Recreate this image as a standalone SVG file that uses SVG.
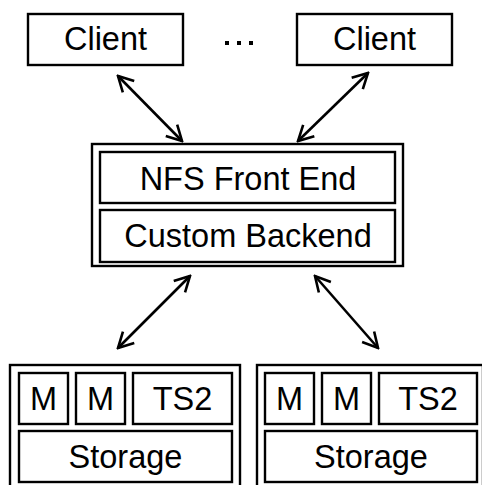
<svg xmlns="http://www.w3.org/2000/svg" width="482" height="485" viewBox="0 0 482 485">
<style>
rect{fill:none;stroke:#000;stroke-width:2.4}
text{font-family:"Liberation Sans",Arial,sans-serif;font-size:32.5px;fill:#000;text-anchor:middle}
.c line{stroke:#000;stroke-width:2.6}
.dot{fill:#000;stroke:none}
</style>
<defs>
<marker id="ah" viewBox="-18 -10 20 20" markerWidth="20" markerHeight="20" refX="0" refY="0" orient="auto-start-reverse" markerUnits="userSpaceOnUse">
<path d="M-15,-8 L0,0 L-15,8" fill="none" stroke="#000" stroke-width="2.6"/>
</marker>
</defs>
<rect width="482" height="485" style="fill:#fff;stroke:none"/>
<g id="client1"><rect x="28" y="14" width="155" height="51"/><text x="105.5" y="50">Client</text></g>
<g id="dots"><rect class="dot" x="225" y="41" width="4" height="4"/><rect class="dot" x="237" y="41" width="4" height="4"/><rect class="dot" x="249" y="41" width="4" height="4"/></g>
<g id="client2"><rect x="297" y="14" width="155" height="51"/><text x="374.5" y="50">Client</text></g>
<g id="server">
<rect x="92" y="144" width="311" height="122"/>
<g id="nfs"><rect x="100" y="152" width="295" height="51"/><text x="248" y="190">NFS Front End</text></g>
<g id="backend"><rect x="100" y="210" width="295" height="52"/><text x="248" y="247">Custom Backend</text></g>
</g>
<g id="node1">
<rect x="10" y="365" width="230" height="130"/>
<g id="n1m1"><rect x="19" y="373" width="49" height="51"/><text x="43.5" y="410">M</text></g>
<g id="n1m2"><rect x="76" y="373" width="49" height="51"/><text x="100.5" y="410">M</text></g>
<g id="n1ts2"><rect x="133" y="373" width="99" height="51"/><text x="182.5" y="410">TS2</text></g>
<g id="n1storage"><rect x="19" y="431" width="213" height="51"/><text x="125.5" y="468">Storage</text></g>
</g>
<g id="node2">
<rect x="257" y="365" width="226" height="130"/>
<g id="n2m1"><rect x="265" y="373" width="49" height="51"/><text x="289.5" y="410">M</text></g>
<g id="n2m2"><rect x="322" y="373" width="49" height="51"/><text x="346.5" y="410">M</text></g>
<g id="n2ts2"><rect x="379" y="373" width="98" height="51"/><text x="428" y="410">TS2</text></g>
<g id="n2storage"><rect x="265" y="431" width="212" height="51"/><text x="371" y="468">Storage</text></g>
</g>
<g class="c" id="connectors">
<line x1="118" y1="76" x2="182" y2="141" marker-start="url(#ah)" marker-end="url(#ah)"/>
<line x1="368" y1="73" x2="298" y2="141" marker-start="url(#ah)" marker-end="url(#ah)"/>
<line x1="190" y1="276" x2="118" y2="348" marker-start="url(#ah)" marker-end="url(#ah)"/>
<line x1="315" y1="276" x2="378" y2="348" marker-start="url(#ah)" marker-end="url(#ah)"/>
</g>
</svg>
